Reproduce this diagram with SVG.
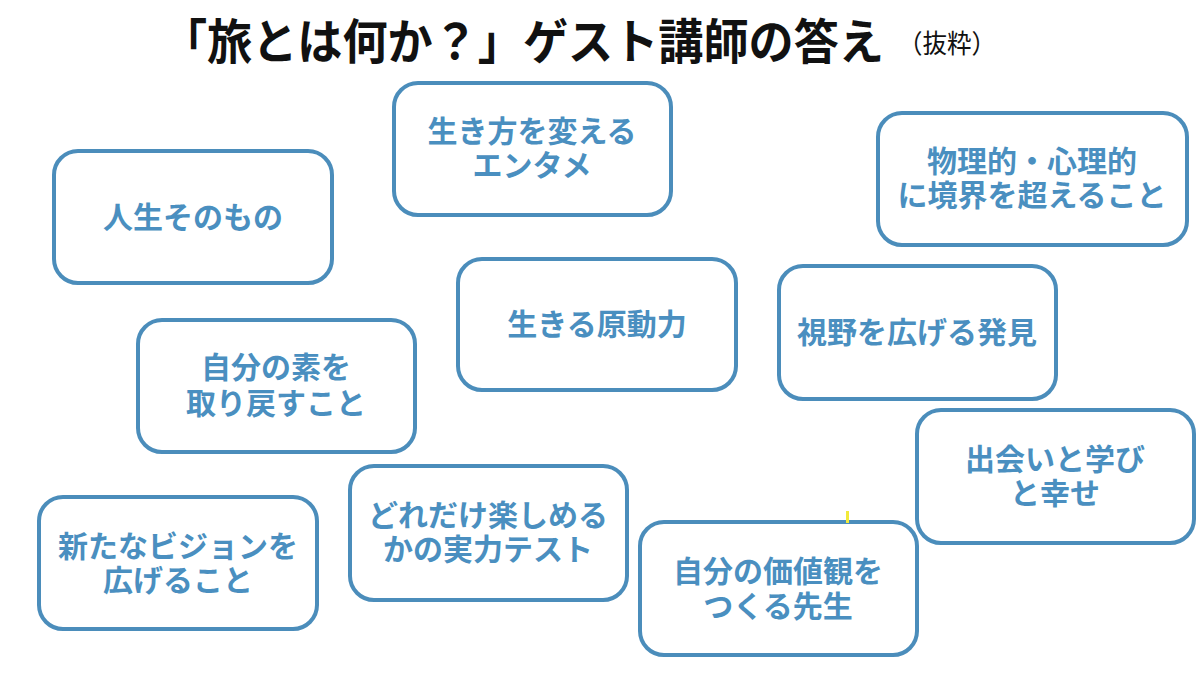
<svg xmlns="http://www.w3.org/2000/svg" width="1200" height="674" viewBox="0 0 1200 674">
<style>
.box{fill:#ffffff;stroke:#4b8dbb;stroke-width:4}
.t{font-family:"Noto Sans CJK JP","Noto Sans",sans-serif;font-weight:bold;font-size:30px;fill:#4a8fc0;text-anchor:middle}
.title{font-family:"Noto Sans CJK JP","Noto Sans",sans-serif;font-weight:bold;font-size:48px;fill:#111111}
.sub{font-family:"Noto Sans CJK JP","Noto Sans",sans-serif;font-size:26px;fill:#111111}
</style>
<rect width="1200" height="674" fill="#ffffff"/>
<g id="title">
<text class="title" x="162" y="59" textLength="722" lengthAdjust="spacingAndGlyphs">「旅とは何か？」ゲスト講師の答え</text>
<text class="sub" x="898" y="53" textLength="98" lengthAdjust="spacingAndGlyphs">（抜粋）</text>
</g>
<g id="connectors"></g>
<g id="n1"><rect class="box" x="54" y="151" width="278" height="132" rx="24"/><text class="t" x="193" y="228">人生そのもの</text></g>
<g id="n2"><rect class="box" x="394" y="83" width="277" height="132" rx="24"/><text class="t" x="532" y="142">生き方を変える</text><text class="t" x="532" y="176">エンタメ</text></g>
<g id="n3"><rect class="box" x="878" y="113" width="309" height="132" rx="24"/><text class="t" x="1032" y="172">物理的・心理的</text><text class="t" x="1032" y="206">に境界を超えること</text></g>
<g id="n4"><rect class="box" x="458" y="259" width="278" height="131" rx="24"/><text class="t" x="597" y="335">生きる原動力</text></g>
<g id="n5"><rect class="box" x="779" y="266" width="277" height="133" rx="24"/><text class="t" x="917" y="343">視野を広げる発見</text></g>
<g id="n6"><rect class="box" x="138" y="320" width="277" height="132" rx="24"/><text class="t" x="276" y="378">自分の素を</text><text class="t" x="276" y="414">取り戻すこと</text></g>
<g id="n7"><rect class="box" x="917" y="410" width="277" height="133" rx="24"/><text class="t" x="1055" y="470">出会いと学び</text><text class="t" x="1055" y="504">と幸せ</text></g>
<g id="n8"><rect class="box" x="39" y="497" width="278" height="132" rx="24"/><text class="t" x="178" y="557">新たなビジョンを</text><text class="t" x="178" y="591">広げること</text></g>
<g id="n9"><rect class="box" x="350" y="466" width="277" height="134" rx="24"/><text class="t" x="488" y="526">どれだけ楽しめる</text><text class="t" x="488" y="560">かの実力テスト</text></g>
<g id="n10"><rect class="box" x="640" y="522" width="277" height="133" rx="24"/><text class="t" x="778" y="582">自分の価値観を</text><text class="t" x="778" y="617">つくる先生</text></g>
<rect x="846" y="511" width="3" height="12" fill="#f2ea3a"/>
</svg>
